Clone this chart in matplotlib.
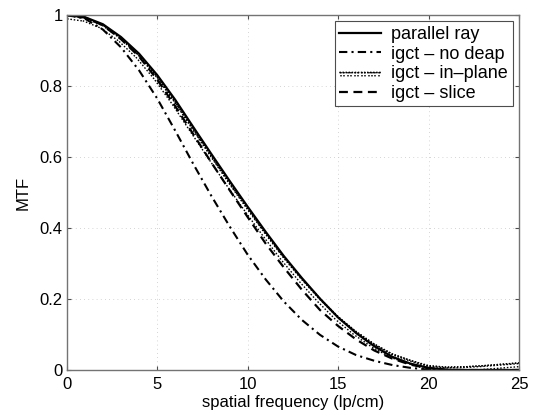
import numpy as np
import matplotlib
matplotlib.use("Agg")
import matplotlib.pyplot as plt
import matplotlib.patheffects as pe

# spatial frequency samples (lp/cm)
freq = [0, 1, 2, 3, 4, 5, 6, 7, 8, 9, 10, 11, 12, 13, 14, 15, 16, 17, 18, 19, 20, 21, 22, 23, 24, 25]

# MTF curves
mtf_parallel = [1.000, 0.994, 0.974, 0.938, 0.891, 0.831, 0.761, 0.684, 0.608, 0.533, 0.460, 0.389, 0.321,
                0.259, 0.201, 0.148, 0.104, 0.067, 0.037, 0.018, 0.006, 0.001, 0.0, 0.0, 0.0, 0.0]
mtf_nodeap = [1.000, 0.990, 0.959, 0.909, 0.844, 0.765, 0.674, 0.580, 0.490, 0.405, 0.325, 0.255, 0.193,
              0.141, 0.099, 0.066, 0.042, 0.026, 0.014, 0.006, 0.001, 0.0, 0.0, 0.0, 0.0, 0.0]
mtf_inplane = [1.000, 0.993, 0.972, 0.935, 0.887, 0.826, 0.755, 0.678, 0.602, 0.527, 0.455, 0.385, 0.318,
               0.257, 0.201, 0.150, 0.108, 0.073, 0.045, 0.027, 0.012, 0.008, 0.009, 0.012, 0.016, 0.020]
mtf_slice = [1.000, 0.993, 0.971, 0.932, 0.883, 0.818, 0.743, 0.664, 0.584, 0.507, 0.431, 0.356, 0.289,
             0.226, 0.169, 0.124, 0.086, 0.055, 0.032, 0.015, 0.005, 0.0, 0.0, 0.0, 0.0, 0.0]

labels = ["parallel ray", "igct \u2013 no deap", "igct \u2013 in\u2013plane", "igct \u2013 slice"]
xticks = [0, 5, 10, 15, 20, 25]
yticks = [0, 0.2, 0.4, 0.6, 0.8, 1]
ytick_labels = ["0", "0.2", "0.4", "0.6", "0.8", "1"]

plt.rcParams['font.family'] = ['Liberation Sans', 'DejaVu Sans']
plt.rcParams['font.size'] = 12

fig = plt.figure(figsize=(5.34, 4.15), dpi=100)
ax = fig.add_axes([66.7/534, 45/415, (519-66.7)/534, 355/415])

ax.plot(freq, mtf_parallel, color='k', lw=1.6, ls='-', label=labels[0])
ax.plot(freq, mtf_nodeap, color='k', lw=1.5, dashes=(4, 2, 1, 2), label=labels[1])
ax.plot(freq, mtf_inplane, color='k', lw=1.0, ls=(0, (1, 1.2)), label=labels[2],
        path_effects=[pe.withTickedStroke(angle=-90, spacing=2.4, length=1.6, linewidth=1.1), pe.Normal()])
ax.plot(freq, mtf_slice, color='k', lw=1.6, dashes=(4, 2.5), label=labels[3])

ax.set_xlim(0, 25)
ax.set_ylim(0, 1)
ax.set_xticks(xticks)
ax.set_yticks(yticks)
ax.set_yticklabels(ytick_labels)
ax.grid(True, color='0.78', lw=0.6, ls=(0, (1, 4)))
ax.tick_params(direction='in', length=3, top=True, right=True, color='0.3', pad=3)
ax.tick_params(axis='x', pad=5)
for s in ax.spines.values():
    s.set_color('0.45')
    s.set_linewidth(1.0)

ax.set_xlabel("spatial frequency (lp/cm)", labelpad=2)
ax.set_ylabel("MTF", labelpad=6)

leg = ax.legend(loc='upper right', borderaxespad=0.35, fancybox=False, framealpha=1,
                edgecolor='0.3', handlelength=2.3, handletextpad=0.6, labelspacing=0.15,
                borderpad=0.25, fontsize=13)
leg.get_frame().set_linewidth(0.8)

fig.savefig("out.png", dpi=100)
